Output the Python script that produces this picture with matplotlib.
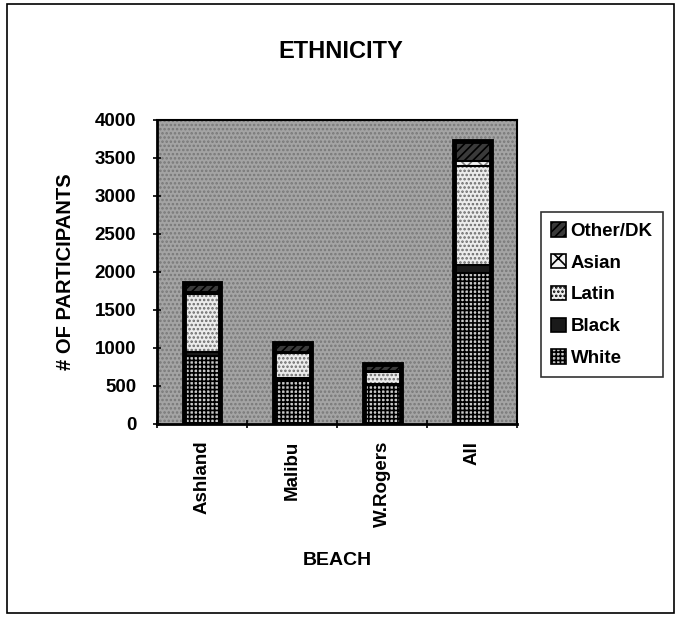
import numpy as np
import matplotlib
matplotlib.use('Agg')
import matplotlib.pyplot as plt
from matplotlib.patches import Rectangle, Patch

# --- データ ---------------------------------------------------------
beaches = ['Ashland', 'Malibu', 'W.Rogers', 'All']
white = [890, 580, 510, 1980]
black = [60, 30, 20, 110]
latin = [760, 320, 150, 1310]
asian = [30, 20, 15, 65]
other = [110, 110, 100, 255]
yticks = [0, 500, 1000, 1500, 2000, 2500, 3000, 3500, 4000]
# ---------------------------------------------------------------------

plt.rcParams['font.family'] = ['Liberation Sans', 'DejaVu Sans']
plt.rcParams['font.weight'] = 'bold'
plt.rcParams['hatch.linewidth'] = 1.2

fig = plt.figure(figsize=(6.81, 6.18), dpi=100)
ax = fig.add_axes([0.2305, 0.314, 0.529, 0.492])

# 背景（灰色のざらざら）
ax.set_facecolor('#a4a4a4')
ax.add_patch(Rectangle((0, 0), 1, 1, transform=ax.transAxes, facecolor='none',
                       edgecolor='#787878', hatch='....', linewidth=0, zorder=0))

# 系列ごとのスタイル
series = [
    ('White', white, dict(facecolor='#c8c8c8', edgecolor='black', hatch='++++')),
    ('Black', black, dict(facecolor='#1a1a1a', edgecolor='black', hatch='')),
    ('Latin', latin, dict(facecolor='#ececec', edgecolor='#6a6a6a', hatch='....')),
    ('Asian', asian, dict(facecolor='#f4f4f4', edgecolor='#808080', hatch='xx')),
    ('Other/DK', other, dict(facecolor='#3a3a3a', edgecolor='black', hatch='////')),
]

x = np.arange(len(beaches))
w = 0.41
bottom = np.zeros(len(beaches))
handles = []
for name, vals, st in series:
    ax.bar(x, vals, w, bottom=bottom, linewidth=0, zorder=2, **st)
    bottom = bottom + np.array(vals)
    handles.append(Patch(label=name, linewidth=1.2, **{**st, 'edgecolor': 'black'}))

# 棒の外枠
ax.bar(x, bottom, w, fill=False, edgecolor='black', linewidth=3.5, zorder=3)
# 区切り線
run = np.zeros(len(beaches))
for name, vals, st in series[:-1]:
    run = run + np.array(vals)
    for i in range(len(beaches)):
        ax.plot([x[i] - w / 2, x[i] + w / 2], [run[i], run[i]], color='black', lw=1.5, zorder=3)

ax.set_xlim(-0.5, 3.5)
ax.set_ylim(0, 4000)
ax.set_yticks(yticks)
ax.set_yticklabels([str(v) for v in yticks], fontsize=13.5, fontweight='bold')
ax.set_xticks(x)
ax.set_xticklabels(beaches, rotation=90, fontsize=13.5, fontweight='bold')
ax.set_xticks(np.arange(-0.5, 4, 1), minor=True)
ax.tick_params(axis='x', which='major', length=0, pad=12)
ax.tick_params(axis='x', which='minor', length=6, width=1.2, direction='inout')
ax.tick_params(axis='y', length=6, width=1.2, direction='inout', pad=12)

for s in ['left', 'bottom']:
    ax.spines[s].set_linewidth(2)
for s in ['top', 'right']:
    ax.spines[s].set_linewidth(1.5)

ax.set_ylabel('# OF PARTICIPANTS', fontsize=14.5, fontweight='bold', labelpad=14)
ax.set_xlabel('BEACH', fontsize=14, fontweight='bold', labelpad=18)
fig.text(0.5, 0.917, 'ETHNICITY', ha='center', va='center', fontsize=17, fontweight='bold')

leg = fig.legend(handles=handles[::-1], loc='upper left', bbox_to_anchor=(0.794, 0.657),
                 fontsize=13.5, frameon=True, fancybox=False, handlelength=0.8,
                 handleheight=0.8, handletextpad=0.25, labelspacing=0.75, borderpad=0.55,
                 borderaxespad=0)
leg.get_frame().set_edgecolor('black')
leg.get_frame().set_linewidth(1.2)
for t in leg.get_texts():
    t.set_fontweight('bold')

# 外枠
fig.add_artist(Rectangle((0.011, 0.008), 0.978, 0.985, transform=fig.transFigure,
                         fill=False, edgecolor='black', linewidth=1.2))

fig.savefig('out.png', dpi=100)
